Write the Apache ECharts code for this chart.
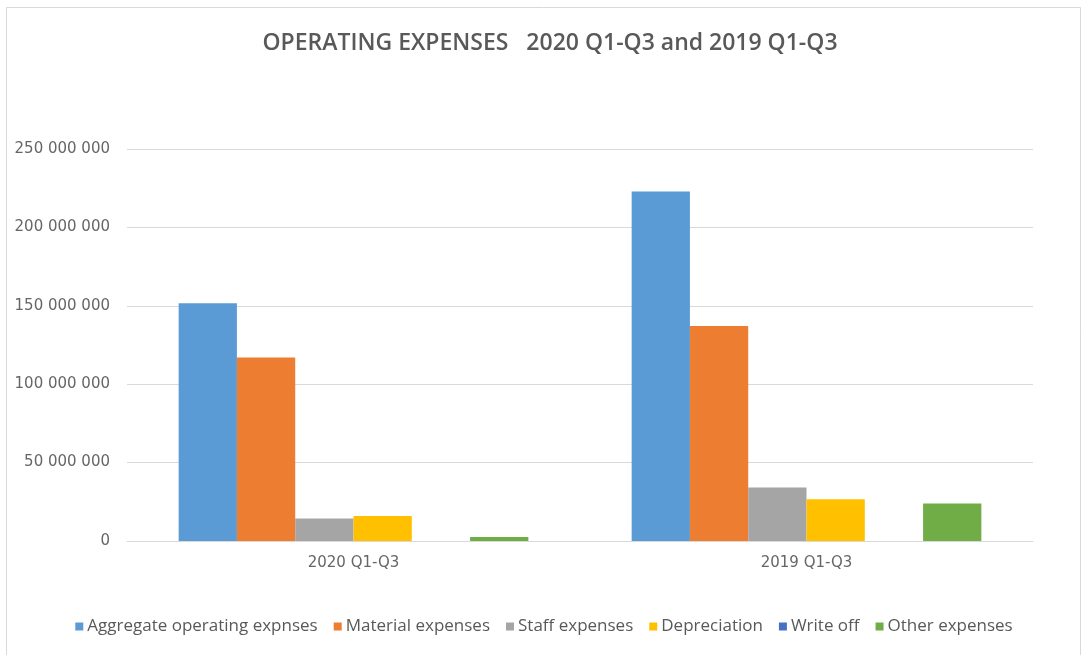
<!DOCTYPE html>
<html>
<head>
<meta charset="utf-8">
<script src="https://cdn.jsdelivr.net/npm/echarts@6/dist/echarts.min.js"></script>
<style>
  html, body { margin: 0; padding: 0; background: #ffffff; }
  #chart { width: 1088px; height: 655px; }
</style>
</head>
<body>
<div id="chart"></div>
<script>
// Periods on the category axis
const categories = ['2020 Q1-Q3', '2019 Q1-Q3'];

// Expense groups, one bar series each (values in currency units)
const seriesNames = [
  'Aggregate operating expnses',
  'Material expenses',
  'Staff expenses',
  'Depreciation',
  'Write off',
  'Other expenses'
];
const aggregateValues    = [151600000, 222900000];
const materialValues     = [117100000, 137100000];
const staffValues        = [14300000, 34100000];
const depreciationValues = [16000000, 26600000];
const writeOffValues     = [0, 0];
const otherValues        = [2600000, 23900000];

// Value axis ticks
const yTicks = [0, 50000000, 100000000, 150000000, 200000000, 250000000];

const seriesValues = [aggregateValues, materialValues, staffValues, depreciationValues, writeOffValues, otherValues];
const palette = ['#5b9bd5', '#ed7d31', '#a5a5a5', '#ffc000', '#4472c4', '#70ad47'];

const titleFont = '"Open Sans", "Liberation Sans", sans-serif';
const labelFont = '"DejaVu Sans", "Open Sans", sans-serif';

function groupThousands(v) {
  return String(Math.round(v)).replace(/\B(?=(\d{3})+(?!\d))/g, ' ');
}

const chart = echarts.init(document.getElementById('chart'), null, { renderer: 'canvas' });

chart.setOption({
  animation: false,
  backgroundColor: '#ffffff',
  color: palette,
  graphic: [{
    type: 'rect',
    shape: { x: 6.5, y: 7.5, width: 1074, height: 660 },
    style: { fill: 'none', stroke: '#d9d9d9', lineWidth: 1 },
    silent: true
  }],
  title: {
    text: 'OPERATING EXPENSES   2020 Q1-Q3 and 2019 Q1-Q3',
    left: 545,
    textAlign: 'center',
    top: 27,
    textStyle: {
      fontFamily: titleFont,
      fontSize: 23,
      fontWeight: 600,
      color: '#595959'
    }
  },
  legend: {
    data: seriesNames,
    bottom: 15,
    left: 'center',
    itemWidth: 8,
    itemHeight: 8,
    itemGap: 16,
    icon: 'rect',
    textStyle: {
      fontFamily: titleFont,
      fontSize: 17,
      color: '#595959',
      padding: [0, 0, 0, -1]
    }
  },
  grid: {
    left: 127,
    right: 55,
    top: 149,
    bottom: 114,
    containLabel: false
  },
  xAxis: {
    type: 'category',
    data: categories,
    axisLine: { lineStyle: { color: '#d9d9d9', width: 1 } },
    axisTick: { show: false },
    axisLabel: {
      fontFamily: labelFont,
      fontSize: 15,
      color: '#666666',
      margin: 15
    }
  },
  yAxis: {
    type: 'value',
    min: yTicks[0],
    max: yTicks[yTicks.length - 1],
    interval: yTicks[1] - yTicks[0],
    axisLine: { show: false },
    axisTick: { show: false },
    splitLine: { lineStyle: { color: '#d9d9d9', width: 1 } },
    axisLabel: {
      fontFamily: labelFont,
      fontSize: 15,
      color: '#666666',
      margin: 17,
      formatter: groupThousands
    }
  },
  series: seriesNames.map((name, i) => ({
    name: name,
    type: 'bar',
    data: seriesValues[i],
    barGap: '0%',
    barCategoryGap: '22.8%',
    itemStyle: { color: palette[i] }
  }))
});
</script>
</body>
</html>
